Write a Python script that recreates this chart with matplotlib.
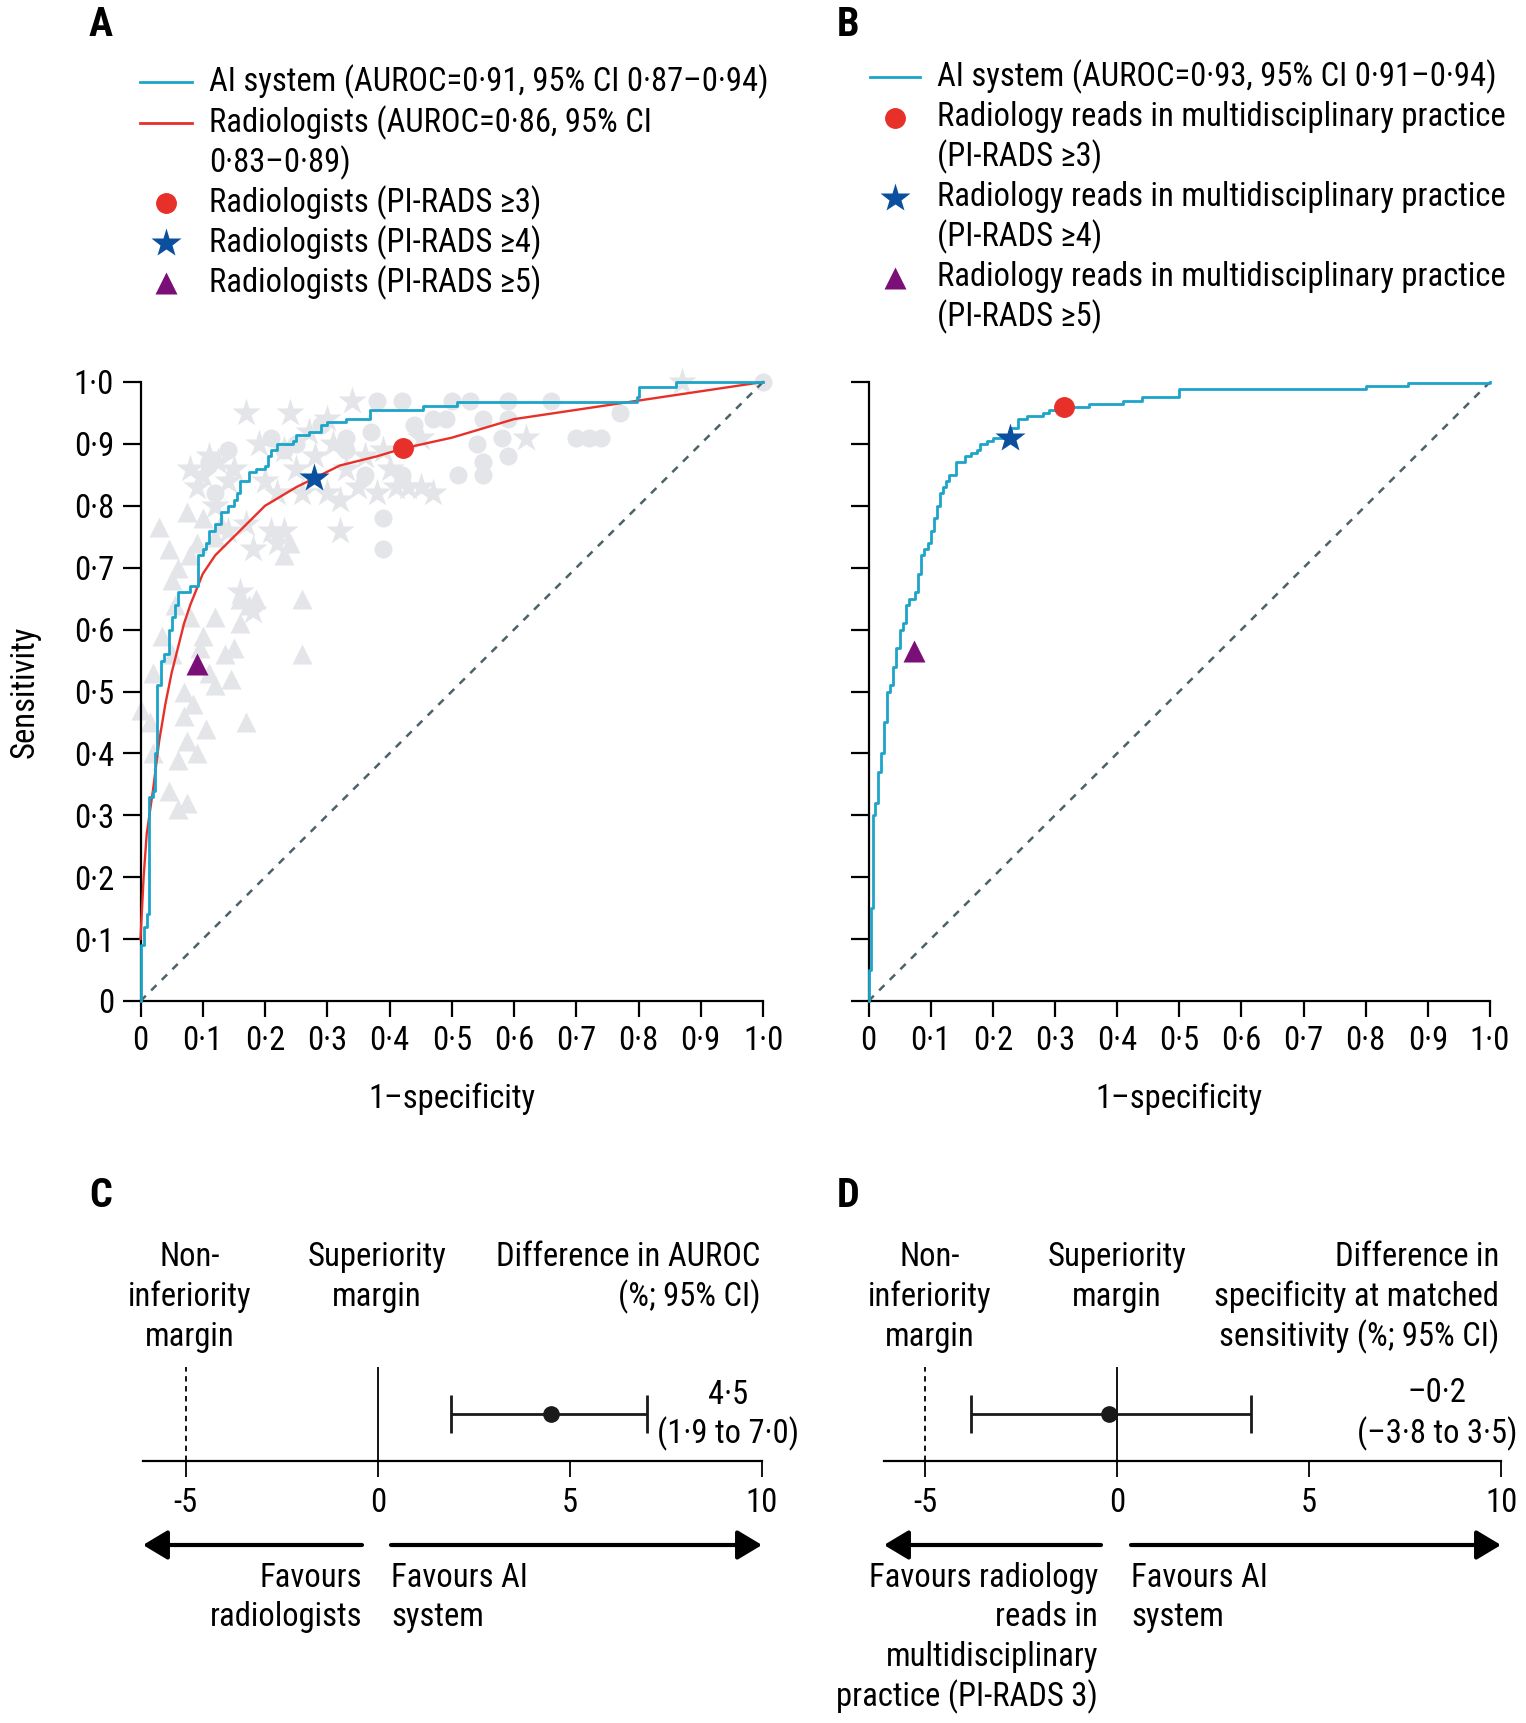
import matplotlib.pyplot as plt
from matplotlib import font_manager

# narrow font closest to the journal typeface, fall back to Lato
names = {f.name for f in font_manager.fontManager.ttflist}
base = 'Roboto Condensed' if 'Roboto Condensed' in names else 'Lato'
plt.rcParams['font.family'] = [base, 'DejaVu Sans']
FS = 23.5

# ---- panel A data ----
ai_a_fpr = [0, 0, 0.005, 0.01, 0.013, 0.02, 0.023, 0.026, 0.033, 0.038, 0.045, 0.05, 0.055, 0.06,
            0.08, 0.093, 0.10, 0.105, 0.11, 0.12, 0.13, 0.14, 0.15, 0.155, 0.16, 0.175, 0.185, 0.2,
            0.205, 0.21, 0.22, 0.245, 0.25, 0.27, 0.29, 0.30, 0.33, 0.369, 0.454, 0.508, 0.797, 0.80,
            0.861, 1.0]
ai_a_tpr = [0, 0.09, 0.12, 0.14, 0.33, 0.34, 0.40, 0.51, 0.55, 0.56, 0.60, 0.62, 0.64, 0.66,
            0.67, 0.72, 0.73, 0.74, 0.76, 0.77, 0.79, 0.80, 0.81, 0.82, 0.84, 0.855, 0.86, 0.865,
            0.88, 0.89, 0.90, 0.905, 0.915, 0.92, 0.93, 0.935, 0.94, 0.955, 0.961, 0.968, 0.975, 0.992,
            1.0, 1.0]
rad_fpr = [0, 0.005, 0.01, 0.02, 0.03, 0.04, 0.05, 0.06, 0.07, 0.08, 0.10, 0.12, 0.15, 0.18, 0.20,
           0.25, 0.28, 0.32, 0.38, 0.423, 0.50, 0.60, 0.70, 0.80, 0.90, 1.0]
rad_tpr = [0.10, 0.20, 0.27, 0.34, 0.42, 0.48, 0.53, 0.57, 0.61, 0.64, 0.69, 0.72, 0.75, 0.78, 0.80,
           0.83, 0.845, 0.865, 0.88, 0.893, 0.91, 0.94, 0.955, 0.97, 0.985, 1.0]
rad_pts_a = {'pirads3': (0.422, 0.893), 'pirads4': (0.279, 0.845), 'pirads5': (0.09, 0.545)}

# individual readers (grey)
rd5_x = [0.03, 0.045, 0.05, 0.035, 0.02, 0.0, 0.015, 0.02, 0.045, 0.06, 0.075, 0.06, 0.09, 0.105,
         0.07, 0.085, 0.07, 0.12, 0.145, 0.11, 0.135, 0.15, 0.10, 0.12, 0.08, 0.16, 0.175, 0.16,
         0.185, 0.26, 0.26, 0.17, 0.075, 0.05, 0.06, 0.08, 0.09, 0.075, 0.10, 0.12, 0.13, 0.23,
         0.24, 0.055, 0.095]
rd5_y = [0.765, 0.73, 0.68, 0.59, 0.53, 0.47, 0.45, 0.40, 0.34, 0.31, 0.32, 0.39, 0.40, 0.44,
         0.46, 0.48, 0.50, 0.51, 0.52, 0.53, 0.56, 0.57, 0.59, 0.62, 0.62, 0.61, 0.64, 0.65,
         0.65, 0.65, 0.56, 0.45, 0.42, 0.56, 0.70, 0.72, 0.74, 0.79, 0.78, 0.75, 0.77, 0.72,
         0.74, 0.64, 0.57]
rd4_x = [0.08, 0.10, 0.11, 0.125, 0.17, 0.24, 0.27, 0.30, 0.34, 0.23, 0.19, 0.15, 0.20, 0.22,
         0.26, 0.30, 0.32, 0.38, 0.41, 0.43, 0.45, 0.47, 0.33, 0.36, 0.39, 0.45, 0.62, 0.32, 0.21,
         0.17, 0.14, 0.18, 0.23, 0.22, 0.16, 0.18, 0.12, 0.87, 0.28, 0.35, 0.09, 0.14, 0.25,
         0.31, 0.40]
rd4_y = [0.86, 0.85, 0.88, 0.87, 0.95, 0.95, 0.92, 0.94, 0.97, 0.89, 0.90, 0.86, 0.84, 0.82,
         0.82, 0.82, 0.81, 0.82, 0.83, 0.83, 0.83, 0.82, 0.86, 0.88, 0.89, 0.91, 0.91, 0.76, 0.76,
         0.77, 0.76, 0.73, 0.76, 0.74, 0.66, 0.63, 0.80, 1.0, 0.88, 0.83, 0.83, 0.84, 0.86,
         0.90, 0.86]
rd3_x = [0.38, 0.42, 0.50, 0.53, 0.59, 0.66, 0.44, 0.47, 0.49, 0.55, 0.59, 0.77, 0.54, 0.58,
         0.70, 0.72, 0.74, 0.55, 0.59, 0.51, 0.55, 0.39, 0.39, 0.37, 0.33, 0.29, 0.21, 0.23, 0.12,
         0.11, 0.14, 0.42, 0.36, 1.0, 0.25, 0.33]
rd3_y = [0.97, 0.97, 0.97, 0.97, 0.97, 0.97, 0.93, 0.94, 0.94, 0.94, 0.94, 0.95, 0.90, 0.91,
         0.91, 0.91, 0.91, 0.87, 0.88, 0.85, 0.85, 0.78, 0.73, 0.92, 0.91, 0.93, 0.91, 0.89, 0.82,
         0.87, 0.89, 0.85, 0.85, 1.0, 0.90, 0.89]

# ---- panel B data ----
ai_b_fpr = [0, 0, 0.004, 0.008, 0.01, 0.015, 0.02, 0.025, 0.03, 0.035, 0.04, 0.045, 0.05, 0.055,
            0.06, 0.065, 0.075, 0.08, 0.085, 0.09, 0.095, 0.10, 0.105, 0.11, 0.115, 0.12, 0.125,
            0.13, 0.14, 0.155, 0.165, 0.175, 0.18, 0.19, 0.20, 0.23, 0.24, 0.255, 0.28, 0.29, 0.31,
            0.355, 0.41, 0.44, 0.50, 0.80, 0.868, 1.0]
ai_b_tpr = [0, 0.05, 0.15, 0.30, 0.32, 0.37, 0.40, 0.45, 0.50, 0.51, 0.54, 0.57, 0.60, 0.61,
            0.64, 0.65, 0.66, 0.69, 0.72, 0.73, 0.74, 0.76, 0.78, 0.80, 0.82, 0.83, 0.84,
            0.85, 0.87, 0.88, 0.885, 0.89, 0.90, 0.905, 0.91, 0.925, 0.94, 0.945, 0.95, 0.955, 0.96,
            0.965, 0.97, 0.975, 0.989, 0.994, 0.998, 1.0]
rad_pts_b = {'pirads3': (0.314, 0.960), 'pirads4': (0.227, 0.909), 'pirads5': (0.074, 0.565)}

# ---- panels C and D ----
diff_c = [4.5, 1.9, 7.0]
diff_d = [-0.2, -3.8, 3.5]
noninf_margin = -5
sup_margin = 0
nl_ticks = [-5, 0, 5, 10]

C_AI = '#1ca4c9'
C_RED = '#e8302a'
C_STAR = '#0b4f9f'
C_TRI = '#7b0f78'
C_GREY = '#e3e5e9'
C_DIAG = '#4a6369'

W, H = 1526, 1723
fig = plt.figure(figsize=(W / 100, H / 100), dpi=100)


def rect(l, t, r, b):
    return [l / W, 1 - b / H, (r - l) / W, (b - t) / H]


def fmt(v):
    return '0' if v == 0 else f'{v:.1f}'.replace('.', '·')


ticks = [i / 10 for i in range(11)]


def roc_axes(r, ylabels):
    ax = fig.add_axes(r)
    ax.set_xlim(0, 1)
    ax.set_ylim(0, 1)
    for s in ['top', 'right']:
        ax.spines[s].set_visible(False)
    for s in ['left', 'bottom']:
        ax.spines[s].set_linewidth(1.6)
    ax.set_xticks(ticks)
    ax.set_xticklabels([fmt(t) for t in ticks])
    ax.set_yticks(ticks)
    ax.set_yticklabels([fmt(t) for t in ticks] if ylabels else [])
    ax.tick_params(axis='x', length=11.5, width=1.6, labelsize=FS, pad=6)
    ax.tick_params(axis='y', length=13, width=1.6, labelsize=FS, pad=6)
    ax.plot([0, 1], [0, 1], ls=(0, (3, 3)), color=C_DIAG, lw=1.8, zorder=2)
    ax.set_xlabel('1–specificity', fontsize=FS, labelpad=18)
    return ax


axA = roc_axes(rect(140.5, 382, 763, 1001), True)
axA.plot(rd5_x, rd5_y, '^', color=C_GREY, ms=14, mec='none', clip_on=False, zorder=1)
axA.plot(rd4_x, rd4_y, '*', color=C_GREY, ms=21, mec='none', clip_on=False, zorder=1)
axA.plot(rd3_x, rd3_y, 'o', color=C_GREY, ms=13, mec='none', clip_on=False, zorder=1)
axA.plot(rad_fpr, rad_tpr, color=C_RED, lw=1.7, zorder=3, clip_on=False)
axA.step(ai_a_fpr, ai_a_tpr, where='post', color=C_AI, lw=2.0, zorder=4, clip_on=False)
axA.plot(*rad_pts_a['pirads3'], 'o', color=C_RED, ms=14, zorder=5)
axA.plot(*rad_pts_a['pirads4'], '*', color=C_STAR, ms=22, mec='none', zorder=5)
axA.plot(*rad_pts_a['pirads5'], '^', color=C_TRI, ms=16, mec='none', zorder=5)
axA.set_ylabel('Sensitivity', fontsize=FS, labelpad=24)

axB = roc_axes(rect(868.5, 382, 1490, 1001), False)
axB.step(ai_b_fpr, ai_b_tpr, where='post', color=C_AI, lw=2.0, zorder=4, clip_on=False)
axB.plot(*rad_pts_b['pirads3'], 'o', color=C_RED, ms=14, zorder=5)
axB.plot(*rad_pts_b['pirads4'], '*', color=C_STAR, ms=22, mec='none', zorder=5)
axB.plot(*rad_pts_b['pirads5'], '^', color=C_TRI, ms=16, mec='none', zorder=5)


def number_line(r, lo, d):
    ax = fig.add_axes(r)
    ax.set_xlim(lo, 10)
    ax.set_ylim(0, 1)
    for s in ['top', 'right', 'left']:
        ax.spines[s].set_visible(False)
    ax.spines['bottom'].set_linewidth(1.6)
    ax.set_yticks([])
    ax.set_xticks(nl_ticks)
    ax.set_xticklabels([str(t) for t in nl_ticks])
    ax.tick_params(axis='x', length=11.5, width=1.3, labelsize=FS, pad=7)
    ax.axvline(noninf_margin, 0, 1, ls=(0, (3, 2.5)), color='k', lw=1.3)
    ax.axvline(sup_margin, 0, 1, color='k', lw=1.3)
    est, low, high = d
    ax.errorbar(est, 0.5, xerr=[[est - low], [high - est]], fmt='o', color='#1a1a1a',
                ms=11, elinewidth=2, capsize=14, capthick=2)
    return ax


axC = number_line(rect(143, 1367, 762, 1461), -6.11, diff_c)
axD = number_line(rect(884, 1367, 1501, 1461), -6.07, diff_d)

# overlay in pixel units for legends and annotations
ov = fig.add_axes([0, 0, 1, 1])
ov.set_xlim(0, W)
ov.set_ylim(H, 0)
ov.axis('off')


def lines(x, y0, txts, ha='left', step=40):
    for i, t in enumerate(txts):
        ov.text(x, y0 + i * step, t, ha=ha, va='center', fontsize=FS)


for lab, x, y in [('A', 101, 25), ('B', 848, 25), ('C', 101, 1196), ('D', 848, 1196)]:
    ov.text(x, y, lab, fontsize=29, fontweight='bold', ha='center', va='center')

# legend A
ov.plot([140, 192], [82, 82], color=C_AI, lw=2)
ov.plot([140, 192], [123, 123], color=C_RED, lw=2)
ov.plot(166, 203, 'o', color=C_RED, ms=14)
ov.plot(166, 243, '*', color=C_STAR, ms=22, mec='none')
ov.plot(166, 283, '^', color=C_TRI, ms=16, mec='none')
lines(209, 82, ['AI system (AUROC=0·91, 95% CI 0·87–0·94)'])
lines(209, 123, ['Radiologists (AUROC=0·86, 95% CI', '0·83–0·89)',
                 'Radiologists (PI-RADS ≥3)', 'Radiologists (PI-RADS ≥4)',
                 'Radiologists (PI-RADS ≥5)'])

# legend B
ov.plot([870, 920], [77, 77], color=C_AI, lw=2)
ov.plot(895, 117.5, 'o', color=C_RED, ms=14)
ov.plot(895, 198, '*', color=C_STAR, ms=22, mec='none')
ov.plot(895, 278, '^', color=C_TRI, ms=16, mec='none')
lines(937, 77, ['AI system (AUROC=0·93, 95% CI 0·91–0·94)',
                'Radiology reads in multidisciplinary practice', '(PI-RADS ≥3)',
                'Radiology reads in multidisciplinary practice', '(PI-RADS ≥4)',
                'Radiology reads in multidisciplinary practice', '(PI-RADS ≥5)'], step=40)

# headers C / D
lines(190, 1257, ['Non-', 'inferiority', 'margin'], ha='center')
lines(377, 1257, ['Superiority', 'margin'], ha='center')
lines(760, 1257, ['Difference in AUROC', '(%; 95% CI)'], ha='right')
lines(930, 1257, ['Non-', 'inferiority', 'margin'], ha='center')
lines(1117, 1257, ['Superiority', 'margin'], ha='center')
lines(1499, 1257, ['Difference in', 'specificity at matched', 'sensitivity (%; 95% CI)'], ha='right')

lines(728, 1395, [fmt(diff_c[0]), f'({fmt(diff_c[1])} to {fmt(diff_c[2])})'], ha='center', step=39)
lines(1437, 1393, ['–' + fmt(-diff_d[0]), f'(–{fmt(-diff_d[1])} to {fmt(diff_d[2])})'],
      ha='center', step=41)

# arrows
arr = dict(arrowstyle='-|>,head_length=0.5,head_width=0.3', lw=3, color='k',
           mutation_scale=30, shrinkA=0, shrinkB=0)
for tail, head in [(362, 143), (391, 762), (1101, 884), (1131, 1501)]:
    ov.annotate('', xy=(head, 1545), xytext=(tail, 1545), arrowprops=arr)

lines(362, 1578, ['Favours', 'radiologists'], ha='right', step=39)
lines(391, 1578, ['Favours AI', 'system'], step=39)
lines(1098, 1578, ['Favours radiology', 'reads in', 'multidisciplinary', 'practice (PI-RADS 3)'],
      ha='right', step=39.5)
lines(1131, 1578, ['Favours AI', 'system'], step=39)

fig.savefig('out.png', dpi=100)
